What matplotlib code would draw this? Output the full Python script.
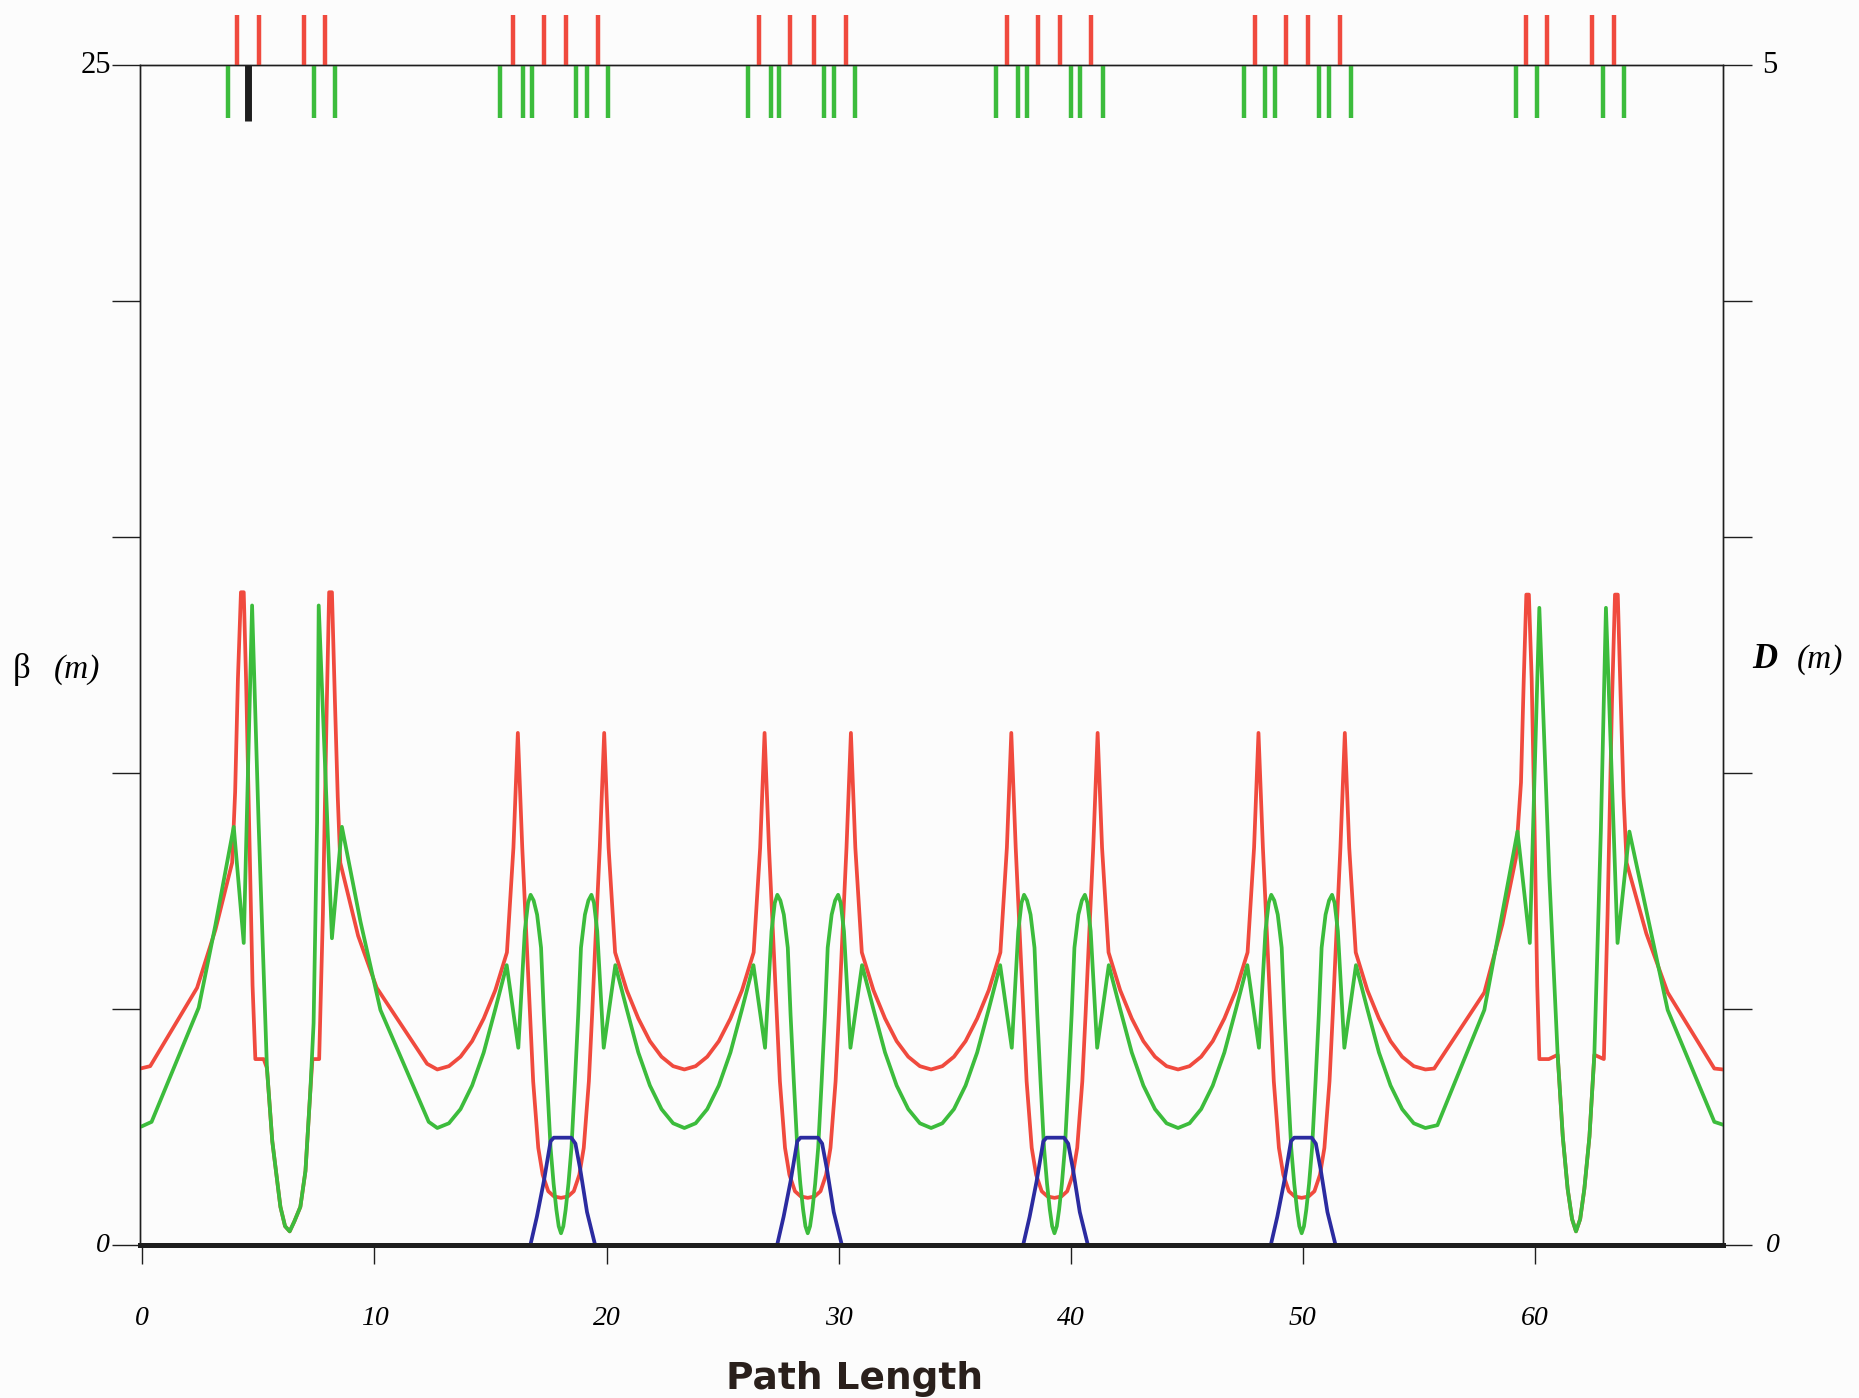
import matplotlib.pyplot as plt

# lattice functions (s in m, beta in m, D in m)
red_s = [0.0, 0.34, 2.36, 3.15, 3.87, 4.0, 4.12, 4.25, 4.37, 4.47, 4.6, 4.75, 4.87, 5.23,
         5.37, 5.6, 5.95, 6.15, 6.35, 6.55, 6.81, 7.03, 7.24, 7.33, 7.62, 7.78, 7.95, 8.05,
         8.17, 8.3, 8.42, 8.53, 9.3, 10.1, 12.27, 12.71,
         13.21, 13.71, 14.21, 14.71, 15.21, 15.71, 15.99, 16.18, 16.37, 16.57, 16.70, 16.84,
         17.06, 17.25, 17.49, 17.74, 18.04, 18.34, 18.59, 18.83, 19.02, 19.24, 19.38, 19.51,
         19.71, 19.90, 20.09, 20.37, 20.87, 21.37, 21.87, 22.37, 22.87, 23.355,
         23.84, 24.34, 24.84, 25.34, 25.84, 26.34, 26.62, 26.81, 27.00, 27.20, 27.33, 27.47,
         27.69, 27.88, 28.12, 28.37, 28.67, 28.97, 29.22, 29.46, 29.65, 29.87, 30.01, 30.14,
         30.34, 30.53, 30.72, 31.00, 31.50, 32.00, 32.50, 33.00, 33.50, 33.985,
         34.47, 34.97, 35.47, 35.97, 36.47, 36.97, 37.25, 37.44, 37.63, 37.83, 37.96, 38.10,
         38.32, 38.51, 38.75, 39.00, 39.30, 39.60, 39.85, 40.09, 40.28, 40.50, 40.64, 40.77,
         40.97, 41.16, 41.35, 41.63, 42.13, 42.63, 43.13, 43.63, 44.13, 44.625,
         45.12, 45.62, 46.12, 46.62, 47.12, 47.62, 47.90, 48.09, 48.28, 48.48, 48.61, 48.75,
         48.97, 49.16, 49.40, 49.65, 49.95, 50.25, 50.50, 50.74, 50.93, 51.15, 51.29, 51.42,
         51.62, 51.81, 52.00, 52.28, 52.78, 53.28, 53.78, 54.28, 54.78, 55.28,
         55.66, 57.82, 58.6, 59.18, 59.4, 59.52, 59.63, 59.74, 59.86, 59.98, 60.1, 60.19,
         60.6, 60.98, 61.2, 61.41, 61.6, 61.77, 61.95, 62.13, 62.35, 62.56, 62.97, 63.13,
         63.32, 63.45, 63.57, 63.7, 63.82, 63.95, 64.8, 65.72, 67.73, 68.1]
red_beta = [3.75, 3.79, 5.45, 6.68, 8.1, 9.6, 12.0, 13.83, 13.83, 12.0, 9.0, 5.5, 3.94, 3.94,
            3.75, 2.2, 0.81, 0.4, 0.29, 0.5, 0.81, 1.57, 3.27, 3.94, 3.94, 7.0, 11.5, 13.83,
            13.83, 11.5, 9.5, 8.1, 6.55, 5.45, 3.84, 3.72,
            3.79, 3.99, 4.32, 4.8, 5.4, 6.2, 8.42, 10.85, 8.42, 6.3, 4.88, 3.47,
            2.06, 1.49, 1.14, 1.03, 1.0, 1.03, 1.14, 1.49, 2.06, 3.47, 4.88, 6.3,
            8.42, 10.85, 8.42, 6.2, 5.4, 4.8, 4.32, 3.99, 3.79, 3.72,
            3.79, 3.99, 4.32, 4.8, 5.4, 6.2, 8.42, 10.85, 8.42, 6.3, 4.88, 3.47,
            2.06, 1.49, 1.14, 1.03, 1.0, 1.03, 1.14, 1.49, 2.06, 3.47, 4.88, 6.3,
            8.42, 10.85, 8.42, 6.2, 5.4, 4.8, 4.32, 3.99, 3.79, 3.72,
            3.79, 3.99, 4.32, 4.8, 5.4, 6.2, 8.42, 10.85, 8.42, 6.3, 4.88, 3.47,
            2.06, 1.49, 1.14, 1.03, 1.0, 1.03, 1.14, 1.49, 2.06, 3.47, 4.88, 6.3,
            8.42, 10.85, 8.42, 6.2, 5.4, 4.8, 4.32, 3.99, 3.79, 3.72,
            3.79, 3.99, 4.32, 4.8, 5.4, 6.2, 8.42, 10.85, 8.42, 6.3, 4.88, 3.47,
            2.06, 1.49, 1.14, 1.03, 1.0, 1.03, 1.14, 1.49, 2.06, 3.47, 4.88, 6.3,
            8.42, 10.85, 8.42, 6.2, 5.4, 4.8, 4.32, 3.99, 3.79, 3.72,
            3.74, 5.35, 6.8, 8.2, 9.8, 12.0, 13.78, 13.78, 12.0, 9.0, 5.5, 3.94,
            3.94, 4.03, 2.3, 1.19, 0.55, 0.29, 0.55, 1.19, 2.3, 4.03, 3.94, 7.0,
            11.5, 13.78, 13.78, 11.5, 9.5, 8.1, 6.6, 5.35, 3.74, 3.72]

green_s = [0.0, 0.4, 2.43, 3.15, 3.94, 4.37, 4.73, 5.01, 5.37, 5.6, 5.95, 6.15, 6.35, 6.55,
           6.81, 7.03, 7.24, 7.38, 7.53, 7.6, 8.17, 8.6, 9.4, 10.26, 12.34, 12.71,
           13.21, 13.71, 14.21, 14.71, 15.21, 15.70, 16.20, 16.48, 16.62, 16.73, 16.86, 17.01,
           17.18, 17.30, 17.44, 17.59, 17.72, 17.84, 17.94, 18.04, 18.14, 18.24, 18.36, 18.49,
           18.64, 18.78, 18.90, 19.07, 19.22, 19.35, 19.46, 19.60, 19.88, 20.38, 20.87, 21.37,
           21.87, 22.37, 22.87, 23.355,
           23.84, 24.34, 24.84, 25.34, 25.84, 26.33, 26.83, 27.11, 27.25, 27.36, 27.49, 27.64,
           27.81, 27.93, 28.07, 28.22, 28.35, 28.47, 28.57, 28.67, 28.77, 28.87, 28.99, 29.12,
           29.27, 29.41, 29.53, 29.70, 29.85, 29.98, 30.09, 30.23, 30.51, 31.01, 31.50, 32.00,
           32.50, 33.00, 33.50, 33.985,
           34.47, 34.97, 35.47, 35.97, 36.47, 36.96, 37.46, 37.74, 37.88, 37.99, 38.12, 38.27,
           38.44, 38.56, 38.70, 38.85, 38.98, 39.10, 39.20, 39.30, 39.40, 39.50, 39.62, 39.75,
           39.90, 40.04, 40.16, 40.33, 40.48, 40.61, 40.72, 40.86, 41.14, 41.64, 42.13, 42.63,
           43.13, 43.63, 44.13, 44.625,
           45.12, 45.62, 46.12, 46.62, 47.12, 47.61, 48.11, 48.39, 48.53, 48.64, 48.77, 48.92,
           49.09, 49.21, 49.35, 49.50, 49.63, 49.75, 49.85, 49.95, 50.05, 50.15, 50.27, 50.40,
           50.55, 50.69, 50.81, 50.98, 51.13, 51.26, 51.37, 51.51, 51.79, 52.29, 52.78, 53.28,
           53.78, 54.28, 54.78, 55.28,
           55.8, 57.82, 59.25, 59.78, 60.19, 60.62, 60.98, 61.2, 61.41, 61.6, 61.77, 61.95,
           62.13, 62.35, 62.56, 62.84, 63.06, 63.56, 64.07, 65.72, 67.73, 68.1]
green_beta = [2.52, 2.61, 5.03, 6.78, 8.86, 6.4, 13.55, 8.95, 3.75, 2.2, 0.81, 0.4, 0.29, 0.5,
              0.81, 1.57, 3.27, 4.7, 8.95, 13.55, 6.5, 8.86, 6.85, 4.98, 2.61, 2.48,
              2.58, 2.88, 3.38, 4.08, 5.0, 5.93, 4.18, 6.65, 7.25, 7.42, 7.3, 7.0,
              6.3, 4.88, 3.47, 2.06, 1.3, 0.75, 0.4, 0.25, 0.4, 0.75, 1.3, 2.06,
              3.47, 4.88, 6.3, 7.0, 7.3, 7.42, 7.25, 6.65, 4.18, 5.93, 5.0, 4.08,
              3.38, 2.88, 2.58, 2.48,
              2.58, 2.88, 3.38, 4.08, 5.0, 5.93, 4.18, 6.65, 7.25, 7.42, 7.3, 7.0,
              6.3, 4.88, 3.47, 2.06, 1.3, 0.75, 0.4, 0.25, 0.4, 0.75, 1.3, 2.06,
              3.47, 4.88, 6.3, 7.0, 7.3, 7.42, 7.25, 6.65, 4.18, 5.93, 5.0, 4.08,
              3.38, 2.88, 2.58, 2.48,
              2.58, 2.88, 3.38, 4.08, 5.0, 5.93, 4.18, 6.65, 7.25, 7.42, 7.3, 7.0,
              6.3, 4.88, 3.47, 2.06, 1.3, 0.75, 0.4, 0.25, 0.4, 0.75, 1.3, 2.06,
              3.47, 4.88, 6.3, 7.0, 7.3, 7.42, 7.25, 6.65, 4.18, 5.93, 5.0, 4.08,
              3.38, 2.88, 2.58, 2.48,
              2.58, 2.88, 3.38, 4.08, 5.0, 5.93, 4.18, 6.65, 7.25, 7.42, 7.3, 7.0,
              6.3, 4.88, 3.47, 2.06, 1.3, 0.75, 0.4, 0.25, 0.4, 0.75, 1.3, 2.06,
              3.47, 4.88, 6.3, 7.0, 7.3, 7.42, 7.25, 6.65, 4.18, 5.93, 5.0, 4.08,
              3.38, 2.88, 2.58, 2.48,
              2.54, 4.98, 8.76, 6.4, 13.5, 7.82, 4.03, 2.3, 1.19, 0.55, 0.29, 0.55,
              1.19, 2.3, 4.03, 8.76, 13.5, 6.4, 8.76, 4.98, 2.61, 2.55]

disp_s = [0.0,
          16.72, 17.0, 17.3, 17.59, 17.73, 18.48, 18.66, 18.87, 19.16, 19.51,
          27.35, 27.63, 27.93, 28.22, 28.36, 29.11, 29.29, 29.5, 29.79, 30.14,
          37.95, 38.23, 38.53, 38.82, 38.96, 39.71, 39.89, 40.1, 40.39, 40.74,
          48.62, 48.9, 49.2, 49.49, 49.63, 50.38, 50.56, 50.77, 51.06, 51.41,
          68.1]
disp_d = [0.0,
          0.0, 0.12, 0.27, 0.44, 0.455, 0.455, 0.43, 0.32, 0.14, 0.0,
          0.0, 0.12, 0.27, 0.44, 0.455, 0.455, 0.43, 0.32, 0.14, 0.0,
          0.0, 0.12, 0.27, 0.44, 0.455, 0.455, 0.43, 0.32, 0.14, 0.0,
          0.0, 0.12, 0.27, 0.44, 0.455, 0.455, 0.43, 0.32, 0.14, 0.0,
          0.0]

# magnet layout strip along the top edge
quad_f = [4.09, 5.01, 6.95, 7.87, 15.95, 17.31, 18.25, 19.62, 26.57, 27.9, 28.92, 30.3,
          37.25, 38.58, 39.55, 40.88, 47.92, 49.27, 50.23, 51.6, 59.62, 60.5, 62.48, 63.4]
quad_d = [3.71, 7.41, 8.32, 15.43, 16.4, 16.81, 18.7, 19.14, 20.06, 26.11, 27.08, 27.44,
          29.38, 29.79, 30.71, 36.79, 37.71, 38.12, 40.01, 40.42, 41.39, 47.46, 48.37, 48.8,
          50.69, 51.12, 52.06, 59.18, 60.09, 62.95, 63.83]
special = [4.57]

x_ticks = [0, 10, 20, 30, 40, 50, 60]
beta_ticks = [0, 5, 10, 15, 20, 25]
d_ticks = [0, 1, 2, 3, 4, 5]

RED = '#f04a3e'
GREEN = '#3cbc3c'
BLUE = '#2b2ba0'
INK = '#1e1e1e'
SERIF = ['Liberation Serif', 'DejaVu Serif']

fig = plt.figure(figsize=(18.59, 13.98), dpi=100, facecolor='#fcfcfc')
ax = fig.add_axes([0.0753, 0.1094, 0.8515, 0.8441])
ax.set_facecolor('#fcfcfc')
ax.set_xlim(-0.1, 68.1)
ax.set_ylim(0, 25)

ax.plot(red_s, red_beta, color=RED, lw=2.7, zorder=3)
ax.plot(green_s, green_beta, color=GREEN, lw=2.7, zorder=4)

ax2 = ax.twinx()
ax2.set_ylim(0, 5)
# zorder below the spine so the zero stretches sit under the thick baseline
ax2.plot(disp_s, disp_d, color=BLUE, lw=2.7, zorder=2)

# magnets
ax.vlines(quad_f, 25, 26.05, colors=RED, lw=3.2, clip_on=False, zorder=6)
ax.vlines(quad_d, 23.87, 25, colors=GREEN, lw=3.2, clip_on=False, zorder=6)
ax.vlines(special, 23.82, 25, colors=INK, lw=5, clip_on=False, zorder=6)

for a in (ax, ax2):
    for side in ('left', 'right', 'top'):
        a.spines[side].set_linewidth(1.0)
        a.spines[side].set_color(INK)
ax.spines['bottom'].set_visible(False)
ax2.spines['bottom'].set_linewidth(3.6)
ax2.spines['bottom'].set_color(INK)

ax.set_xticks(x_ticks, labels=[str(v) for v in x_ticks], fontsize=20,
              fontstyle='italic', family=SERIF)
ax.tick_params(axis='x', direction='out', length=14, width=1, pad=30, color=INK)
ax.set_yticks(beta_ticks, labels=[])
ax.tick_params(axis='y', direction='out', length=20, width=1, color=INK)
ax2.set_yticks(d_ticks, labels=[])
ax2.tick_params(axis='y', direction='out', length=21, width=1, color=INK)

# end labels on the vertical axes
ax.annotate('25', xy=(0, 25), xycoords=('axes fraction', 'data'), xytext=(-21, 0),
            textcoords='offset points', ha='right', va='center', fontsize=22, family=SERIF)
ax.annotate('0', xy=(0, 0), xycoords=('axes fraction', 'data'), xytext=(-22, 0),
            textcoords='offset points', ha='right', va='center', fontsize=20,
            fontstyle='italic', family=SERIF)
ax2.annotate('5', xy=(1, 5), xycoords=('axes fraction', 'data'), xytext=(28, 0),
             textcoords='offset points', ha='left', va='center', fontsize=22, family=SERIF)
ax2.annotate('0', xy=(1, 0), xycoords=('axes fraction', 'data'), xytext=(31, 0),
             textcoords='offset points', ha='left', va='center', fontsize=20,
             fontstyle='italic', family=SERIF)

# axis titles
fig.text(13 / 1859, 1 - 670 / 1398, 'β', fontsize=25, family=SERIF, va='center')
fig.text(54 / 1859, 1 - 670 / 1398, '(m)', fontsize=24, family=SERIF,
         fontstyle='italic', va='center')
fig.text(1752 / 1859, 1 - 660 / 1398, 'D', fontsize=25, family=SERIF,
         fontstyle='italic', fontweight='bold', va='center')
fig.text(1797 / 1859, 1 - 660 / 1398, '(m)', fontsize=24, family=SERIF,
         fontstyle='italic', va='center')
fig.text(854 / 1859, 1 - 1379 / 1398, 'Path Length', fontsize=27, fontweight='bold',
         family=['Liberation Sans Narrow', 'DejaVu Sans'], color='#2a201c',
         ha='center', va='center')

fig.savefig('out.png', dpi=100, facecolor=fig.get_facecolor())
